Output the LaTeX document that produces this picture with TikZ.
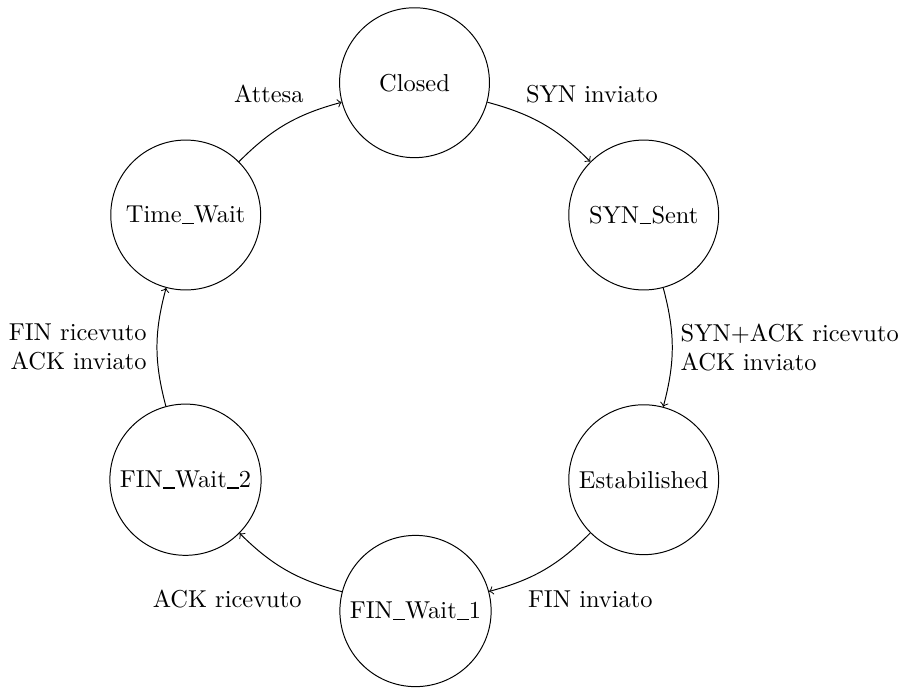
\documentclass[tikz,border=0pt]{standalone}
% trattino basso sottile, largo mezzo em
\newcommand\trattino{\makebox[0.5em][c]{\rule[-0.4pt]{0.48em}{0.45pt}}}
\begin{document}
\begin{tikzpicture}[x=0.4263pt, y=-0.4263pt,
  every node/.style={font=\fontsize{10.42pt}{12.5pt}\selectfont},
  line width=0.42pt,
  stato/.style={draw, circle, minimum size=63.9pt, inner sep=3.47pt},
  transizione/.style={->, bend left=15},
  etichetta/.style={inner sep=0pt}]
\useasboundingbox (0,0) rectangle (906,688);

% stati della macchina TCP
\node[stato] (closed)  at (414.5,82.7)  {Closed};
\node[stato] (synsent) at (643.7,215)   {SYN\trattino Sent};
\node[stato] (estab)   at (643.7,479.7) {Estabilished};
\node[stato] (finw1)   at (415.5,611)   {FIN\trattino Wait\trattino 1};
\node[stato] (finw2)   at (185.5,479.7) {FIN\trattino Wait\trattino 2};
\node[stato] (timew)   at (185.7,215)   {Time\trattino Wait};

% transizioni
\draw[transizione] (closed)  to (synsent);
\draw[transizione] (synsent) to (estab);
\draw[transizione] (estab)   to (finw1);
\draw[transizione] (finw1)   to (finw2);
\draw[transizione] (finw2)   to (timew);
\draw[transizione] (timew)   to (closed);

% etichette delle transizioni (base = riga inferiore)
\node[etichetta, anchor=base west] (l1) at (525.5,102.7) {SYN inviato};
\node[etichetta, anchor=base west, align=left] (l2) at (680.2,370.5) {SYN+ACK ricevuto\\ACK inviato};
\node[etichetta, anchor=base west] (l3) at (527.5,607) {FIN inviato};
\node[etichetta, anchor=base west] (l4) at (152.3,607) {ACK ricevuto};
\node[etichetta, anchor=base east, align=right] (l5) at (147,369.5) {FIN ricevuto\\ACK inviato};
\node[etichetta, anchor=base west] (l6) at (233.7,102.7) {Attesa};
\end{tikzpicture}
\end{document}
